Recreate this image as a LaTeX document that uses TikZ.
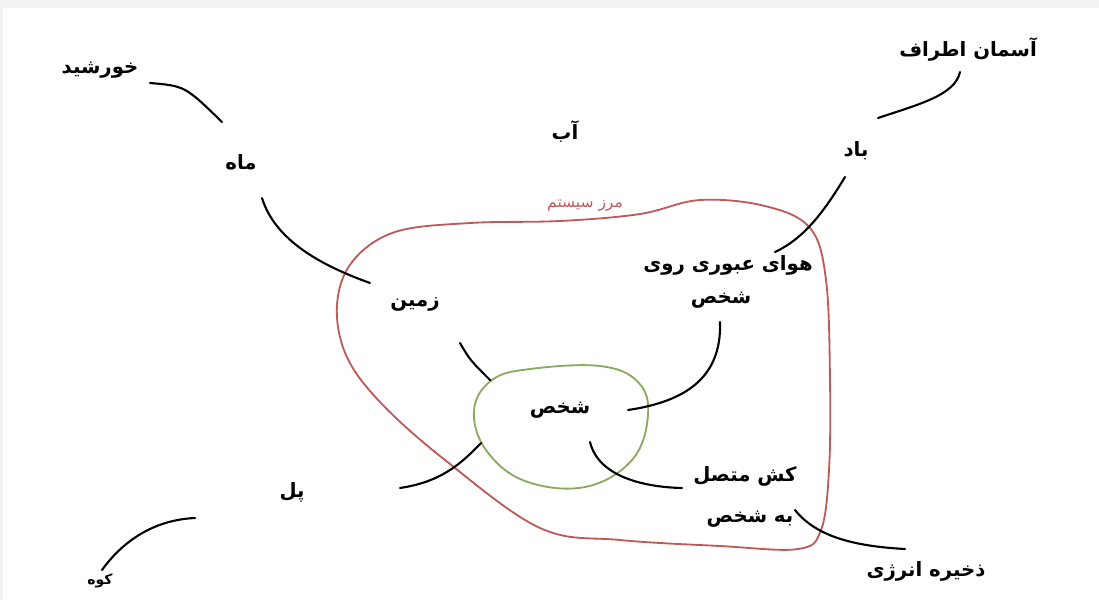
\documentclass[tikz,border=0pt]{standalone}
\usepackage{fontspec}
\newfontfamily\farsi[Script=Arabic]{DejaVu Sans}
\TeXXeTstate=1
\definecolor{bordred}{RGB}{190,90,90}
\definecolor{persgreen}{RGB}{140,170,95}
\definecolor{pagegray}{RGB}{242,242,242}
\newcommand{\fa}[1]{\farsi\beginR #1\endR}
\begin{document}
\begin{tikzpicture}[x=0.025cm, y=-0.025cm]
		\fill[pagegray] (0,0) rectangle (1099,600);
		\fill[white] (3,8) rectangle (1099,600);
		\useasboundingbox (0,0) rectangle (1099,600);
		% system boundary and person
		\draw[bordred, line width=1.3pt] plot[smooth cycle, tension=0.6] coordinates {(352,262) (395,232) (470,223) (560,221) (640,214) (700,200) (765,206) (810,228) (826,280) (830,380) (829,470) (821,530) (798,549) (720,546) (620,540) (540,528) (445,460) (380,402) (346,355) (337,305)};
		\draw[persgreen, line width=1.3pt] plot[smooth cycle, tension=0.65] coordinates {(474,410) (492,380) (530,369) (600,366) (638,382) (648,415) (632,460) (585,487) (525,481) (486,450)};
		\begin{scope}[every node/.style={font=\fontsize{14}{17}\selectfont\bfseries, inner sep=1pt}]
			\node (sun) at (100,70) {\fa{خورشید}};
			\node (moon) at (241,162) {\fa{ماه}};
			\node (water) at (565,132) {\fa{آب}};
			\node (wind) at (856,151) {\fa{باد}};
			\node (sky) at (968,49) {\fa{آسمان اطراف}};
			\node (air) at (728,265) {\fa{هوای عبوری روی}};
			\node (air2) at (721,300) {\fa{شخص}};
			\node (ground) at (415,304) {\fa{زمین}};
			\node (person) at (560,410) {\fa{شخص}};
			\node (bridge) at (292,492) {\fa{پل}};
			\node (cord) at (745,476) {\fa{کش متصل}};
			\node (cord2) at (750,519) {\fa{به شخص}};
			\node (energy) at (926,571) {\fa{ذخیره انرژی}};
		\end{scope}
		\node[font=\fontsize{11}{13}\selectfont, bordred] (boundary) at (585,206) {\fa{مرز سیستم}};
		\node[font=\fontsize{10}{12}\selectfont\bfseries] (mountain) at (100,581) {\fa{کوه}};
		% free ends of the links
		\coordinate (sunA) at (150,83);
		\coordinate (sunB) at (222,122);
		\coordinate (moonA) at (262,198);
		\coordinate (moonB) at (370,283);
		\coordinate (skyA) at (960,72);
		\coordinate (skyB) at (878,118);
		\coordinate (windA) at (845,177);
		\coordinate (windB) at (775,252);
		\coordinate (groundA) at (460,343);
		\coordinate (groundB) at (490,380);
		\coordinate (airA) at (720,322);
		\coordinate (airB) at (628,410);
		\coordinate (bridgeA) at (400,488);
		\coordinate (bridgeB) at (481,443);
		\coordinate (cordA) at (590,442);
		\coordinate (cordB) at (682,488);
		\coordinate (energyA) at (795,510);
		\coordinate (energyB) at (905,549);
		\coordinate (mountA) at (195,518);
		\coordinate (mountB) at (102,570);
		\begin{scope}[every path/.style={draw, line width=1.5pt, line cap=round}]
			\path (sunA) .. controls (185,86) .. (sunB);
			\path (moonA) .. controls (275,240) and (320,265) .. (moonB);
			\path (skyA) .. controls (955,95) and (920,104) .. (skyB);
			\path (windA) .. controls (825,210) and (805,238) .. (windB);
			\path (groundA) .. controls (470,360) .. (groundB);
			\path (airA) .. controls (722,380) and (682,402) .. (airB);
			\path (bridgeA) .. controls (440,482) and (460,465) .. (bridgeB);
			\path (cordA) .. controls (598,475) and (640,487) .. (cordB);
			\path (energyA) .. controls (815,535) and (850,546) .. (energyB);
			\path (mountA) .. controls (150,520) and (120,545) .. (mountB);
		\end{scope}
	\end{tikzpicture}
\end{document}
